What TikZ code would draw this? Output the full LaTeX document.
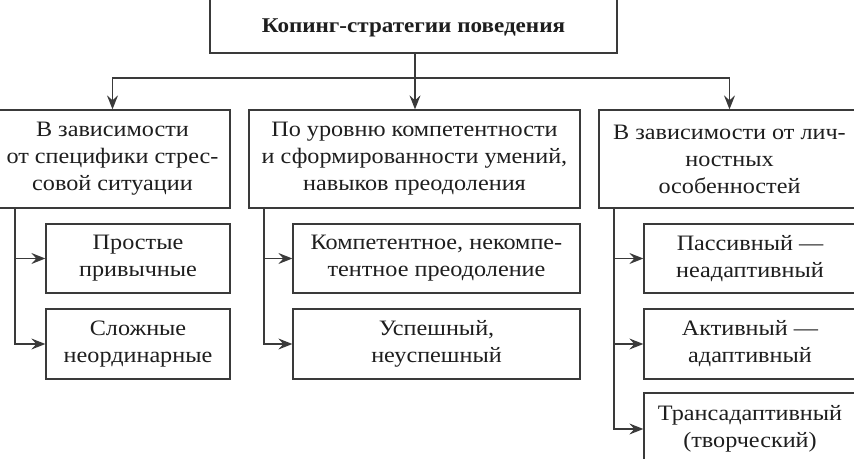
\documentclass[tikz,border=0pt]{standalone}
\usepackage{fontspec}
\setmainfont{Liberation Serif}[FakeStretch=1.1]
\usetikzlibrary{arrows.meta}
\definecolor{ln}{HTML}{3A3A3A}
\definecolor{tx}{HTML}{1E1E1E}
\tikzset{
  box/.style={draw=ln, line width=1.3pt, rectangle, inner sep=0pt, align=center,
    text=tx, font=\fontsize{22}{27}\selectfont},
  con/.style={draw=ln, line width=1.3pt},
  arr/.style={con, -{Stealth[length=14pt,width=11pt,inset=5pt]}}
}
\begin{document}
\begin{tikzpicture}[x=1pt,y=-1pt]
\clip (0,0) rectangle (854,458);
\fill[white] (0,0) rectangle (854,458);
% top
\node[box, minimum width=407pt, minimum height=63pt, font=\fontsize{21}{27}\selectfont\bfseries] (top) at (413.5,21.5) {\raisebox{-11pt}[0pt][0pt]{Копинг-стратегии поведения}};
% level 2
\node[box, minimum width=235pt, minimum height=98pt] (b1) at (112.5,159) {В зависимости\\от специфики стрес-\\совой ситуации};
\node[box, minimum width=331pt, minimum height=98pt] (b2) at (414.5,159) {По уровню компетентности\\и сформированности умений,\\навыков преодоления};
\node[box, minimum width=261pt, minimum height=98pt] (b3) at (729.5,159) {В зависимости от лич-\\ностных\\особенностей};
% children
\node[box, minimum width=184pt, minimum height=69pt] (c11) at (138,258.5) {Простые\\привычные};
\node[box, minimum width=184pt, minimum height=70pt] (c12) at (138,344) {Сложные\\неординарные};
\node[box, minimum width=287pt, minimum height=69pt] (c21) at (436.5,258.5) {Компетентное, некомпе-\\тентное преодоление};
\node[box, minimum width=287pt, minimum height=70pt] (c22) at (436.5,344) {Успешный,\\неуспешный};
\node[box, minimum width=212pt, minimum height=69pt] (c31) at (750,258.5) {Пассивный —\\неадаптивный};
\node[box, minimum width=212pt, minimum height=70pt] (c32) at (750,344) {Активный —\\адаптивный};
\node[box, minimum width=212pt, minimum height=72pt] (c33) at (750,429) {Трансадаптивный\\(творческий)};
% connectors
\coordinate (j) at (415,78);
\draw[con] (top.south -| j) -- (j);
\draw[arr] (j) -- (b2.north -| j);
\draw[arr] (j) -| (b1.north);
\draw[arr] (j) -| (b3.north);
\coordinate (v1) at (15,0);
\coordinate (v2) at (264,0);
\coordinate (v3) at (614,0);
\draw[arr] (b1.south -| v1) |- (c11.west);
\draw[arr] (b1.south -| v1) |- (c12.west);
\draw[arr] (b2.south -| v2) |- (c21.west);
\draw[arr] (b2.south -| v2) |- (c22.west);
\draw[arr] (b3.south -| v3) |- (c31.west);
\draw[arr] (b3.south -| v3) |- (c32.west);
\draw[arr] (b3.south -| v3) |- (c33.west);
\end{tikzpicture}
\end{document}
